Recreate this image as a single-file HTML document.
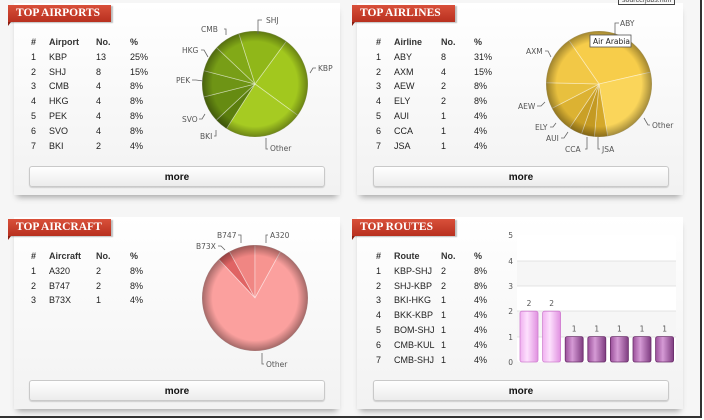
<!DOCTYPE html>
<html><head><meta charset="utf-8"><style>
body{margin:0;width:704px;height:420px;position:relative;overflow:hidden;background:#fff;font-family:"Liberation Sans",sans-serif;}
.bg{position:absolute;left:0;top:0;width:700px;height:416px;background:#f6f6f6;border-right:2px solid #333;border-bottom:2px solid #333;}
.panel{position:absolute;width:326px;height:192px;background:linear-gradient(#fff,#f2f2f2);box-shadow:0 5px 6px -3px rgba(0,0,0,.35);}
.rib{position:absolute;height:17px;width:103px;background:linear-gradient(#d9503a,#b8301f);color:#fff;font-family:"Liberation Serif",serif;font-weight:bold;font-size:11.5px;line-height:17px;padding-left:8px;box-sizing:border-box;box-shadow:2px 1px 1px rgba(0,0,0,.25);}
.rib:after{content:"";position:absolute;left:0;bottom:-4px;border-left:3px solid #8a1d10;border-bottom:4px solid transparent;}
.t{position:absolute;font-size:9px;color:#222;}
.t div{height:14.8px;line-height:14.8px;white-space:nowrap;}
.t .h{font-weight:bold;color:#333;}
.more{position:absolute;width:296px;height:21px;border:1px solid #c9c9c9;border-radius:3px;background:linear-gradient(#fff,#ececec);box-shadow:0 1px 1px rgba(0,0,0,.15);text-align:center;line-height:21px;font-weight:bold;font-size:10px;color:#111;box-sizing:border-box;}
svg{position:absolute;left:0;top:0;}
svg text{font-family:"DejaVu Sans",sans-serif;font-size:7.5px;fill:#555;}
</style></head><body>
<div class="bg"></div>
<div class="panel" style="left:14px;top:3px"></div>
<div class="panel" style="left:357px;top:3px"></div>
<div class="panel" style="left:14px;top:217px"></div>
<div class="panel" style="left:357px;top:217px"></div>
<div style="position:absolute;left:618px;top:-4px;font-size:7px;color:#444;border:1px solid #444;padding:0 3px">source/jobs.htm</div>

<div class="rib" style="left:8px;top:5px">TOP AIRPORTS</div>
<div class="rib" style="left:352px;top:5px">TOP AIRLINES</div>
<div class="rib" style="left:8px;top:219px">TOP AIRCRAFT</div>
<div class="rib" style="left:352px;top:219px">TOP ROUTES</div>

<div class="t" style="left:31px;top:35px"><div class="h">#</div><div>1</div><div>2</div><div>3</div><div>4</div><div>5</div><div>6</div><div>7</div></div>
<div class="t" style="left:49px;top:35px"><div class="h">Airport</div><div>KBP</div><div>SHJ</div><div>CMB</div><div>HKG</div><div>PEK</div><div>SVO</div><div>BKI</div></div>
<div class="t" style="left:96px;top:35px"><div class="h">No.</div><div>13</div><div>8</div><div>4</div><div>4</div><div>4</div><div>4</div><div>2</div></div>
<div class="t" style="left:130px;top:35px"><div class="h">%</div><div>25%</div><div>15%</div><div>8%</div><div>8%</div><div>8%</div><div>8%</div><div>4%</div></div>

<div class="t" style="left:376px;top:35px"><div class="h">#</div><div>1</div><div>2</div><div>3</div><div>4</div><div>5</div><div>6</div><div>7</div></div>
<div class="t" style="left:394px;top:35px"><div class="h">Airline</div><div>ABY</div><div>AXM</div><div>AEW</div><div>ELY</div><div>AUI</div><div>CCA</div><div>JSA</div></div>
<div class="t" style="left:441px;top:35px"><div class="h">No.</div><div>8</div><div>4</div><div>2</div><div>2</div><div>1</div><div>1</div><div>1</div></div>
<div class="t" style="left:474px;top:35px"><div class="h">%</div><div>31%</div><div>15%</div><div>8%</div><div>8%</div><div>4%</div><div>4%</div><div>4%</div></div>

<div class="t" style="left:31px;top:249px"><div class="h">#</div><div>1</div><div>2</div><div>3</div></div>
<div class="t" style="left:49px;top:249px"><div class="h">Aircraft</div><div>A320</div><div>B747</div><div>B73X</div></div>
<div class="t" style="left:96px;top:249px"><div class="h">No.</div><div>2</div><div>2</div><div>1</div></div>
<div class="t" style="left:130px;top:249px"><div class="h">%</div><div>8%</div><div>8%</div><div>4%</div></div>

<div class="t" style="left:376px;top:249px"><div class="h">#</div><div>1</div><div>2</div><div>3</div><div>4</div><div>5</div><div>6</div><div>7</div></div>
<div class="t" style="left:394px;top:249px"><div class="h">Route</div><div>KBP-SHJ</div><div>SHJ-KBP</div><div>BKI-HKG</div><div>BKK-KBP</div><div>BOM-SHJ</div><div>CMB-KUL</div><div>CMB-SHJ</div></div>
<div class="t" style="left:441px;top:249px"><div class="h">No.</div><div>2</div><div>2</div><div>1</div><div>1</div><div>1</div><div>1</div><div>1</div></div>
<div class="t" style="left:474px;top:249px"><div class="h">%</div><div>8%</div><div>8%</div><div>4%</div><div>4%</div><div>4%</div><div>4%</div><div>4%</div></div>

<div class="more" style="left:29px;top:166px">more</div>
<div class="more" style="left:373px;top:166px">more</div>
<div class="more" style="left:29px;top:380px">more</div>
<div class="more" style="left:373px;top:380px">more</div>

<svg width="704" height="420" id="s">
<defs>
<radialGradient id="g1"><stop offset="80%" stop-color="#000" stop-opacity="0"/><stop offset="100%" stop-color="#000" stop-opacity="0.35"/></radialGradient>
<linearGradient id="b1" x1="0" x2="1"><stop offset="0" stop-color="#f0b0f0"/><stop offset=".4" stop-color="#fde0fd"/><stop offset="1" stop-color="#e090e0"/></linearGradient>
<linearGradient id="b2" x1="0" x2="1"><stop offset="0" stop-color="#9a4f9a"/><stop offset=".4" stop-color="#d59ad5"/><stop offset="1" stop-color="#7e3c80"/></linearGradient>
</defs>
<g id="p1"></g><g id="p2"></g><g id="p3"></g>
<circle cx="255" cy="84" r="53" fill="url(#g1)"/>
<circle cx="599" cy="84" r="53" fill="url(#g1)"/>
<circle cx="255" cy="298" r="53" fill="url(#g1)"/>
<g stroke="#666" stroke-width="0.8" fill="none">
<path d="M262 20h-4v14M224 29h2v6M201 50h3l4 7M192 80h4l7 1M199 119h3l3-5M214 136h2v-6M316 68h-3l-3 5M268 149h-2v-11M619 23h-4v13M545 51h3l3 6M537 106h4l4-4M550 127h3l3-4M561 138h3l4-6M585 149h2v-12M600 149h-2v-12M650 125h-2l-4-7M238 235h3v8M268 235h-2v8M218 246h3l4 4M264 364h-2v-11"/>
</g>
<text x="266" y="23">SHJ</text><text x="201" y="32">CMB</text><text x="182" y="53">HKG</text><text x="176" y="83">PEK</text><text x="182" y="122">SVO</text><text x="200" y="139">BKI</text><text x="318" y="71">KBP</text><text x="270" y="151">Other</text>
<text x="620" y="26">ABY</text><text x="526" y="54">AXM</text><text x="518" y="109">AEW</text><text x="535" y="130">ELY</text><text x="546" y="141">AUI</text><text x="565" y="152">CCA</text><text x="602" y="152">JSA</text><text x="652" y="128">Other</text>
<text x="217" y="238">B747</text><text x="270" y="238">A320</text><text x="196" y="249">B73X</text><text x="266" y="367">Other</text>
<rect x="590" y="35" width="41" height="12" fill="#fff" stroke="#555" stroke-width="0.8"/>
<text x="593" y="44" style="fill:#222">Air Arabia</text>
<!-- bar chart -->
<rect x="517" y="235" width="159" height="127" fill="#fff" rx="3"/>
<rect x="517" y="261" width="159" height="25" fill="#f6f6f6"/>
<rect x="517" y="311" width="159" height="26" fill="#f6f6f6"/>
<g stroke="#ddd" stroke-width="0.8"><path d="M517 261h159M517 286h159M517 311h159M517 337h159"/></g>
<g text-anchor="end"><text x="513" y="238">5</text><text x="513" y="264">4</text><text x="513" y="289">3</text><text x="513" y="314">2</text><text x="513" y="340">1</text><text x="513" y="365">0</text></g>
<g id="bars"></g>
</svg>
<script>
function pie(id,cx,cy,r,start,data){var g=document.getElementById(id),a=start*Math.PI/180,h='';
data.forEach(function(d){var b=a+d[0]*3.6*Math.PI/180;var x1=cx+r*Math.cos(a),y1=cy+r*Math.sin(a),x2=cx+r*Math.cos(b),y2=cy+r*Math.sin(b);
h+='<path d="M'+cx+' '+cy+'L'+x1+' '+y1+'A'+r+' '+r+' 0 '+((b-a)>Math.PI?1:0)+' 1 '+x2+' '+y2+'Z" fill="'+d[1]+'" stroke="rgba(255,255,255,0.45)" stroke-width="0.8"/>';a=b;});
g.innerHTML=h;}
pie('p1',255,84,53,-53.8,[[25,'#a2c81e'],[24,'#a6cb22'],[4,'#5b7e0e'],[8,'#668b12'],[8,'#6e9415'],[8,'#789e17'],[8,'#82a917'],[15,'#90b719']]);
pie('p2',599,84,53,-124.6,[[31,'#f7cd4a'],[26,'#fad55a'],[4,'#d4a82a'],[4,'#c49a22'],[4,'#caa026'],[8,'#dcb232'],[8,'#e8c03e'],[15,'#f2c846']]);
pie('p3',255,298,53,-133.2,[[4,'#e06464'],[8,'#f08683'],[8,'#f79490'],[80,'#fba09e']]);
var bh='',vals=[2,2,1,1,1,1,1];
vals.forEach(function(v,i){var x=520+i*22.6,y=362-v*25.4;
bh+='<rect x="'+x+'" y="'+y+'" width="18" height="'+(362-y)+'" rx="2" fill="url(#'+(v==2?'b1':'b2')+')" stroke="'+(v==2?'#d080d0':'#6a2e6a')+'" stroke-width="0.8"/>';
bh+='<text x="'+(x+9)+'" y="'+(y-5)+'" text-anchor="middle">'+v+'</text>';});
document.getElementById('bars').innerHTML=bh;
</script>
</body></html>
